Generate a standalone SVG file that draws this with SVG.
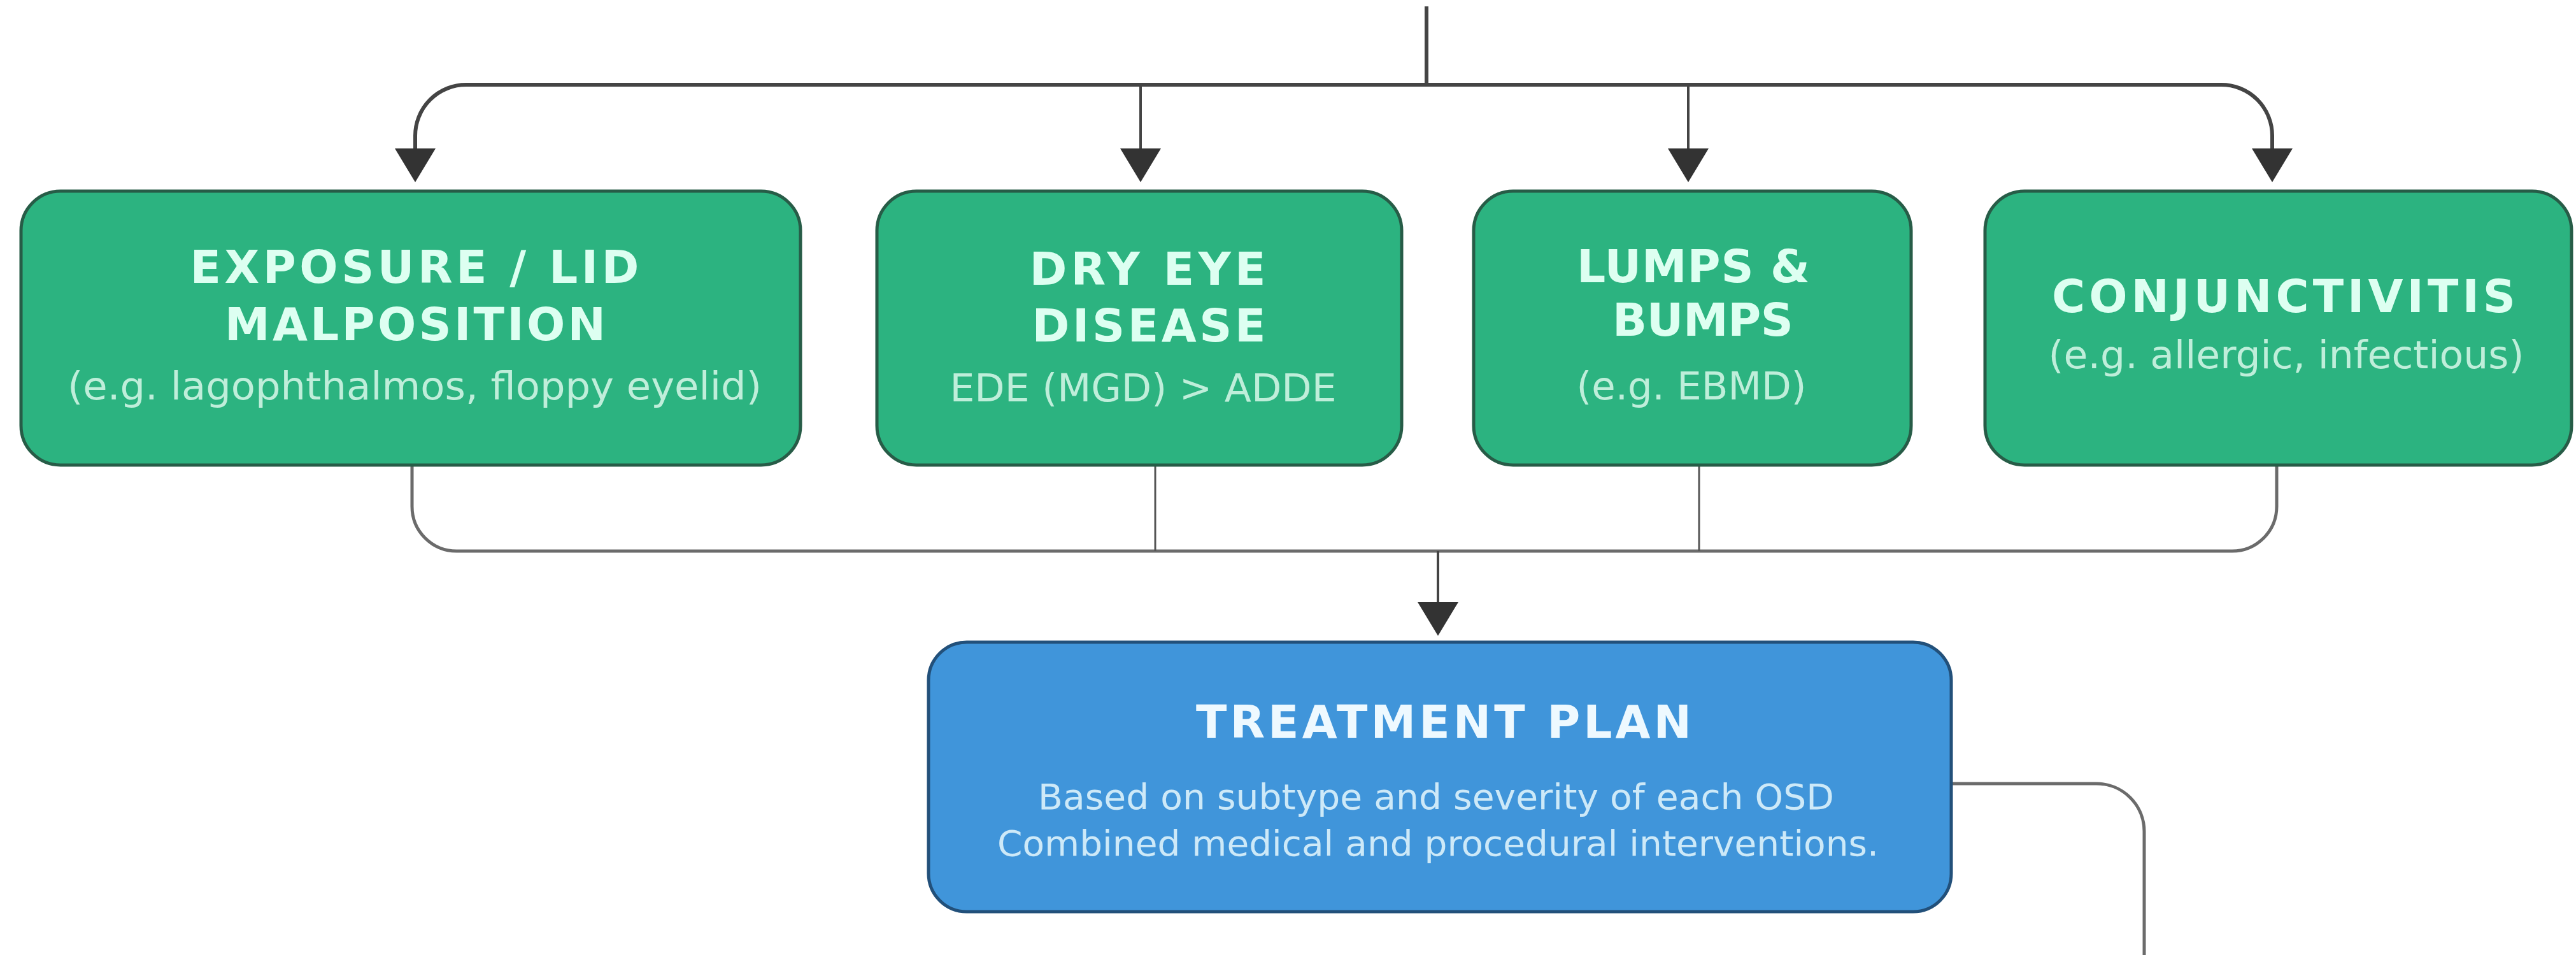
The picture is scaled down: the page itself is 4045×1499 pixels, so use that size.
<svg xmlns="http://www.w3.org/2000/svg" width="4045" height="1499" viewBox="0 0 4045 1499">
  <defs>
    <style>
      .green { fill: #2cb380; stroke: #275c47; stroke-width: 5; }
      .blue { fill: #4095da; stroke: #22507a; stroke-width: 5; }
      .title { font-family: "DejaVu Sans", "Liberation Sans", sans-serif; font-weight: bold; font-size: 71px; text-anchor: middle; }
      .sub { font-family: "DejaVu Sans", "Liberation Sans", sans-serif; font-size: 60px; text-anchor: middle; }
      .small { font-family: "DejaVu Sans", "Liberation Sans", sans-serif; font-size: 55px; text-anchor: middle; }
      .g-title { fill: #ddfff1; }
      .g-sub { fill: #bfeeda; }
      .b-title { fill: #eef9ff; }
      .b-sub { fill: #cde9f8; }
      .wire { fill: none; stroke-linecap: butt; stroke-linejoin: round; }
      .w-top { stroke: #444444; stroke-width: 6; }
      .w-stem { stroke: #444444; stroke-width: 4; }
      .w-bottom { stroke: #6b6b6b; stroke-width: 5; }
      .w-thin { stroke: #555555; stroke-width: 3; }
    </style>
    <marker id="arrow" viewBox="0 0 53 64" markerUnits="userSpaceOnUse" markerWidth="53" markerHeight="64" refX="0" refY="32" orient="auto">
      <path d="M0,0 L53,32 L0,64 Z" fill="#333333"/>
    </marker>
  </defs>

  <rect width="4045" height="1499" fill="#ffffff"/>

  <!-- connectors -->
  <g id="connectors">
    <!-- incoming trunk and distribution bar -->
    <path class="wire w-top" d="M2240,10 V133"/>
    <path class="wire w-top" d="M2240,133 H732 A80,80 0 0 0 652,213 V233" marker-end="url(#arrow)"/>
    <path class="wire w-top" d="M2240,133 H3488 A80,80 0 0 1 3568,213 V233" marker-end="url(#arrow)"/>
    <path class="wire w-stem" d="M1791,133 V233" marker-end="url(#arrow)"/>
    <path class="wire w-stem" d="M2651,133 V233" marker-end="url(#arrow)"/>

    <!-- collector bar under the four categories -->
    <path class="wire w-bottom" d="M647,730 V795 A70,70 0 0 0 717,865 H3505 A70,70 0 0 0 3575,795 V730"/>
    <path class="wire w-thin" d="M1814,730 V865"/>
    <path class="wire w-thin" d="M2668,730 V865"/>
    <path class="wire w-stem" d="M2258,865 V945" marker-end="url(#arrow)"/>

    <!-- outgoing line from treatment plan -->
    <path class="wire w-bottom" d="M3065,1230 H3292 A75,75 0 0 1 3367,1305 V1499"/>
  </g>

  <!-- category nodes -->
  <g id="exposure-lid">
    <rect class="green" x="33" y="300" width="1224" height="430" rx="62" ry="62"/>
    <text class="title g-title" x="651" y="444" textLength="705" lengthAdjust="spacing">EXPOSURE / LID</text>
    <text class="title g-title" x="652" y="534" textLength="598" lengthAdjust="spacing">MALPOSITION</text>
    <text class="sub g-sub" x="651" y="627" textLength="1090" lengthAdjust="spacingAndGlyphs">(e.g. lagophthalmos, floppy eyelid)</text>
  </g>

  <g id="dry-eye">
    <rect class="green" x="1377" y="300" width="824" height="430" rx="62" ry="62"/>
    <text class="title g-title" x="1802" y="447" textLength="371" lengthAdjust="spacing">DRY EYE</text>
    <text class="title g-title" x="1804" y="536" textLength="367" lengthAdjust="spacing">DISEASE</text>
    <text class="sub g-sub" x="1795" y="630" textLength="607" lengthAdjust="spacingAndGlyphs">EDE (MGD) &gt; ADDE</text>
  </g>

  <g id="lumps-bumps">
    <rect class="green" x="2314" y="300" width="687" height="430" rx="62" ry="62"/>
    <text class="title g-title" x="2659" y="443" textLength="366" lengthAdjust="spacing">LUMPS &amp;</text>
    <text class="title g-title" x="2674" y="527" textLength="284" lengthAdjust="spacing">BUMPS</text>
    <text class="sub g-sub" x="2656" y="627" textLength="361" lengthAdjust="spacingAndGlyphs">(e.g. EBMD)</text>
  </g>

  <g id="conjunctivitis">
    <rect class="green" x="3117" y="300" width="921" height="430" rx="62" ry="62"/>
    <text class="title g-title" x="3586" y="490" textLength="728" lengthAdjust="spacing">CONJUNCTIVITIS</text>
    <text class="sub g-sub" x="3590" y="578" textLength="747" lengthAdjust="spacingAndGlyphs">(e.g. allergic, infectious)</text>
  </g>

  <!-- treatment node -->
  <g id="treatment-plan">
    <rect class="blue" x="1458" y="1008" width="1606" height="423" rx="60" ry="60"/>
    <text class="title b-title" x="2267" y="1158" textLength="778" lengthAdjust="spacing">TREATMENT PLAN</text>
    <text class="small b-sub" x="2255" y="1270" textLength="1250" lengthAdjust="spacingAndGlyphs">Based on subtype and severity of each OSD</text>
    <text class="small b-sub" x="2258" y="1343" textLength="1384" lengthAdjust="spacingAndGlyphs">Combined medical and procedural interventions.</text>
  </g>
</svg>
